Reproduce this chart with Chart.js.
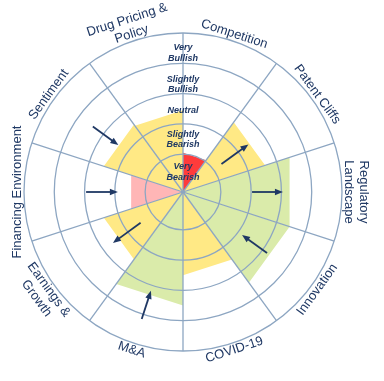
<!DOCTYPE html>
<html><head><meta charset="utf-8">
<script src="https://cdn.jsdelivr.net/npm/chart.js@4/dist/chart.umd.min.js"></script>
<style>html,body{margin:0;padding:0;background:#fff}#wrap{position:relative;width:384px;height:381px}</style>
</head><body><div id="wrap"><canvas id="c"></canvas></div>
<script>
// ---- data ----
const categories = [['Drug Pricing &','Policy'], 'Competition', 'Patent Cliffs', ['Regulatory','Landscape'], 'Innovation', 'COVID-19', 'M&A', ['Earnings &','Growth'], 'Financing Environment', 'Sentiment'];
const sentimentValues = [2.45, 1.05, 2.6, 3.45, 3.45, 2.5, 3.5, 2.5, 1.55, 2.5];
const trendFrom = [null, null, 1.32, 2.03, 3.18, null, 4.16, 1.48, 2.95, 3.43];
const trendTo   = [null, null, 2.42, 3.05, 2.16, null, 3.18, 2.61, 1.90, 2.39];
const levelTicks = [1, 2, 3, 4, 5];
const levelLabels = [['Very','Bearish'], ['Slightly','Bearish'], ['Neutral'], ['Slightly','Bullish'], ['Very','Bullish']];

// ---- styles ----
const SCALE_MIN = -0.25, SCALE_MAX = 5;
const GRID = '#8DA6C2';
const NAVY = '#1F3864';
const LEVEL_NUDGE = [-1, 0.5, 2, 6, 5]; // px toward centre
function colorFor(v){
  if (v < 1.25) return '#FF3B3B';
  if (v < 2) return '#FFB6B6';
  if (v < 3) return '#FFE985';
  return '#DAEBAA';
}
const n = categories.length;
const flat = c => Array.isArray(c) ? c.join(' ') : c;

const datasets = sentimentValues.map((v, k) => {
  const data = new Array(n).fill(SCALE_MIN);
  data[k] = v; data[(k + 1) % n] = v;
  return {label: flat(categories[k]), data, backgroundColor: colorFor(v), borderWidth: 0,
          pointRadius: 0, pointHoverRadius: 0, fill: 'start', tension: 0};
});

const overlay = {
  id: 'overlay',
  afterDraw(chart) {
    const s = chart.scales.r, ctx = chart.ctx;
    const xc = s.xCenter, yc = s.yCenter, R = s.drawingArea;
    const step = 2 * Math.PI / n;
    const pos = (a, d) => ({x: xc + Math.sin(a) * d, y: yc - Math.cos(a) * d});
    ctx.save();
    // arrows
    ctx.strokeStyle = NAVY; ctx.fillStyle = NAVY; ctx.lineWidth = 1.8; ctx.lineCap = 'butt';
    for (let k = 0; k < n; k++) {
      if (trendFrom[k] == null) continue;
      const a = s.getIndexAngle(k) + step / 2;
      const p1 = pos(a, s.getDistanceFromCenterForValue(trendFrom[k]));
      const p2 = pos(a, s.getDistanceFromCenterForValue(trendTo[k]));
      const L = Math.hypot(p2.x - p1.x, p2.y - p1.y);
      const ux = (p2.x - p1.x) / L, uy = (p2.y - p1.y) / L;
      const hl = 8, hw = 3.2;
      ctx.beginPath(); ctx.moveTo(p1.x, p1.y); ctx.lineTo(p2.x - ux * hl * 0.7, p2.y - uy * hl * 0.7); ctx.stroke();
      ctx.beginPath(); ctx.moveTo(p2.x, p2.y);
      ctx.lineTo(p2.x - ux * hl - uy * hw, p2.y - uy * hl + ux * hw);
      ctx.lineTo(p2.x - ux * hl + uy * hw, p2.y - uy * hl - ux * hw);
      ctx.closePath(); ctx.fill();
    }
    // level labels
    ctx.font = 'italic bold 9px "Liberation Sans", Arial, sans-serif';
    ctx.textAlign = 'center'; ctx.textBaseline = 'middle'; ctx.fillStyle = NAVY;
    levelLabels.forEach((lines, i) => {
      const lo = i === 0 ? s.min : levelTicks[i - 1], hi = levelTicks[i];
      const d = (s.getDistanceFromCenterForValue(lo) + s.getDistanceFromCenterForValue(hi)) / 2 - LEVEL_NUDGE[i];
      const lh = 10.5;
      lines.forEach((t, j) => ctx.fillText(t, xc, yc - d + (j - (lines.length - 1) / 2) * lh));
    });
    // category labels
    ctx.font = '13px "Liberation Sans", Arial, sans-serif';
    categories.forEach((c, k) => {
      const lines = Array.isArray(c) ? c : [c];
      let a = s.getIndexAngle(k) + step / 2;
      if (a > Math.PI) a -= 2 * Math.PI;
      const top = Math.cos(a) > -1e-6;
      const rot = top ? a : a - Math.PI;
      ctx.save(); ctx.translate(xc, yc); ctx.rotate(rot);
      lines.forEach((t, j) => {
        const fromInner = top ? lines.length - 1 - j : j;
        const d = R + 7 + fromInner * 15;
        ctx.fillText(t, 0, top ? -d : d);
      });
      ctx.restore();
    });
    ctx.restore();
  }
};

new Chart(document.getElementById('c'), {
  type: 'radar',
  data: {labels: categories.map(flat), datasets},
  options: {
    responsive: true, maintainAspectRatio: false, animation: false,
    layout: {padding: {top: 33, bottom: 30, left: 24, right: 42}},
    plugins: {legend: {display: false}, tooltip: {enabled: false}},
    scales: {
      r: {
        min: SCALE_MIN, max: SCALE_MAX, startAngle: -36,
        afterBuildTicks: sc => { sc.ticks = levelTicks.map(v => ({value: v})); },
        ticks: {display: false},
        grid: {circular: true, color: GRID, lineWidth: 1.3, z: 1},
        angleLines: {display: true, color: GRID, lineWidth: 1.3},
        pointLabels: {display: false}
      }
    }
  },
  plugins: [overlay]
});
</script></body></html>
